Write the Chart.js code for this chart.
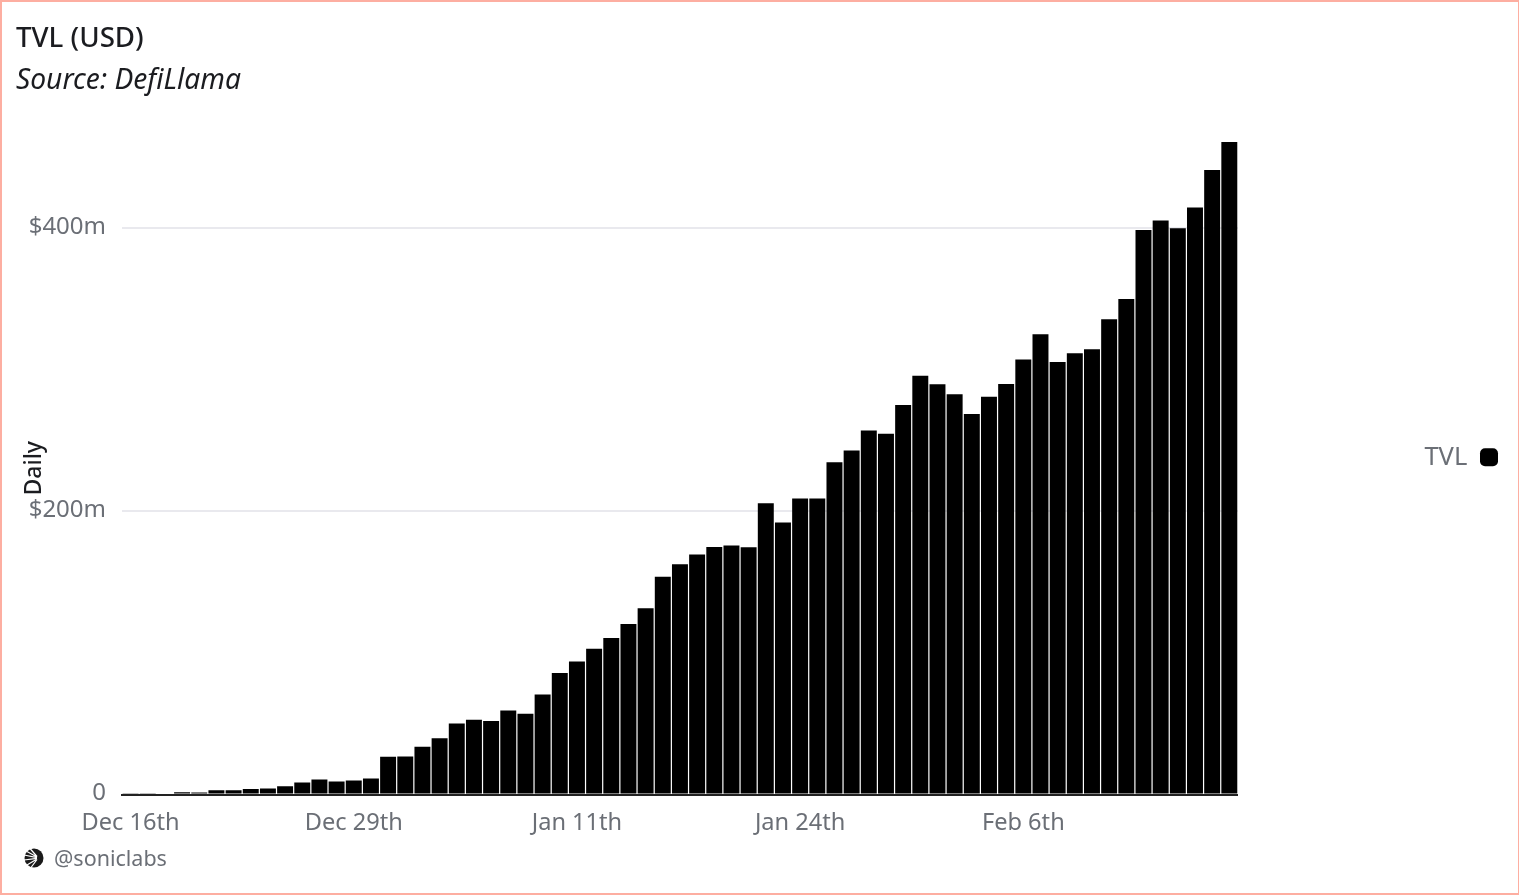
<!DOCTYPE html>
<html><head><meta charset="utf-8">
<script src="https://cdn.jsdelivr.net/npm/chart.js@4"></script>
<style>
html,body{margin:0;padding:0;background:#fff;overflow:hidden}
#frame{position:absolute;left:0;top:0;width:1519px;height:895px;box-sizing:border-box;border:2px solid #fdaea1;border-right-width:1px}
canvas{position:absolute;left:0;top:0}
.t{position:absolute;white-space:nowrap;font-family:"Noto Sans",sans-serif}
#title{left:16px;top:18px;font-size:27.7px;font-weight:500;color:#1b1c20;line-height:36px}
#sub{left:16px;top:60px;font-size:28.2px;font-style:italic;color:#1b1c20;line-height:36px}
#handle{left:54px;top:844px;font-size:21.5px;color:#6b6f76;line-height:28px}
#logo{position:absolute;left:24px;top:848px}
</style></head>
<body>
<div id="frame"></div>
<canvas id="c" width="1519" height="895"></canvas>
<div class="t" id="title">TVL (USD)</div>
<div class="t" id="sub">Source: DefiLlama</div>
<svg id="logo" width="20" height="20" viewBox="0 0 20 20"><circle cx="10" cy="10" r="9.5" fill="#1a1a1a"/><path d="M0 7L13 9.6M2 3L13 9M6 0.5L13 8.5M0 12L13 10.4M3 17L13 11M7 19.5L13 11.5" stroke="#fff" stroke-width="1.2" fill="none"/></svg>
<div class="t" id="handle">@soniclabs</div>
<script>
const categories = ["Dec 16th","Dec 17th","Dec 18th","Dec 19th","Dec 20th","Dec 21st","Dec 22nd","Dec 23rd","Dec 24th","Dec 25th","Dec 26th","Dec 27th","Dec 28th","Dec 29th","Dec 30th","Dec 31st",
"Jan 1st","Jan 2nd","Jan 3rd","Jan 4th","Jan 5th","Jan 6th","Jan 7th","Jan 8th","Jan 9th","Jan 10th","Jan 11th","Jan 12th","Jan 13th","Jan 14th","Jan 15th","Jan 16th","Jan 17th","Jan 18th","Jan 19th","Jan 20th","Jan 21st","Jan 22nd","Jan 23rd","Jan 24th","Jan 25th","Jan 26th","Jan 27th","Jan 28th","Jan 29th","Jan 30th","Jan 31st",
"Feb 1st","Feb 2nd","Feb 3rd","Feb 4th","Feb 5th","Feb 6th","Feb 7th","Feb 8th","Feb 9th","Feb 10th","Feb 11th","Feb 12th","Feb 13th","Feb 14th","Feb 15th","Feb 16th","Feb 17th","Feb 18th"];
const tvl = [0.5,0.5,0.7,1.6,1.5,3,3,3.8,4.2,5.9,8.5,10.6,9.2,9.9,11.3,26.7,26.8,33.8,39.8,50.2,52.8,52,59.4,57,70.7,85.8,94,103,110.5,120.4,131.5,153.8,162.6,169.6,174.8,176,174.6,205.7,192.2,209.2,209.2,234.8,243.1,257.2,254.9,275.1,295.8,289.8,282.7,268.8,281,290,307.4,325.1,305.5,311.7,314.5,335.7,350,398.8,405.6,400,414.8,441.2,461];
const yTicks = [0,200,400];
const yTickLabels = ["0","$200m","$400m"];
const seriesName = "TVL";
const axisTitle = "Daily";
const FONT = '"Noto Sans",sans-serif';
const GREY = '#6b6f76';

const placeLegend = {
  id:'placeLegend',
  afterLayout(chart){
    const l = chart.legend, dx = 1519 - l.right;
    l.left += dx; l.right += dx; l.top -= 11; l.bottom -= 11;
  }
};

new Chart(document.getElementById('c'),{
  type:'bar',
  data:{labels:categories,datasets:[{label:seriesName,data:tvl,backgroundColor:'#000',borderWidth:0,categoryPercentage:1,barPercentage:0.93}]},
  plugins:[placeLegend],
  options:{
    responsive:false,animation:false,
    layout:{padding:{top:142,left:0,right:176.5,bottom:0}},
    plugins:{
      tooltip:{enabled:false},
      legend:{position:'right',rtl:true,fullSize:false,
        labels:{padding:21,boxWidth:18,boxHeight:18,useBorderRadius:true,borderRadius:5,color:GREY,font:{family:FONT,size:25.5}}}
    },
    scales:{
      x:{
        grid:{display:false,drawTicks:false},
        border:{color:'#222',width:2},
        afterFit(s){s.height=100.5;},
        ticks:{autoSkip:false,maxRotation:0,minRotation:0,padding:15,color:GREY,font:{family:FONT,size:23.6},
          callback(v,i){return i%13===0?categories[i]:'';}}
      },
      y:{
        min:0,max:461,
        afterFit(s){s.width=122;},
        afterBuildTicks(s){s.ticks=yTicks.map(v=>({value:v}));},
        grid:{color:'#e9e9ee',lineWidth:2,drawTicks:false},
        border:{display:false},
        title:{display:true,text:axisTitle,color:'#1b1c20',padding:{top:21,bottom:0},font:{family:FONT,size:23,weight:'500'}},
        ticks:{padding:16,color:GREY,font:{family:FONT,size:24,lineHeight:'3px'},
          callback(v){return [yTickLabels[yTicks.indexOf(v)],''];}}
      }
    }
  }
});
</script>
</body></html>
